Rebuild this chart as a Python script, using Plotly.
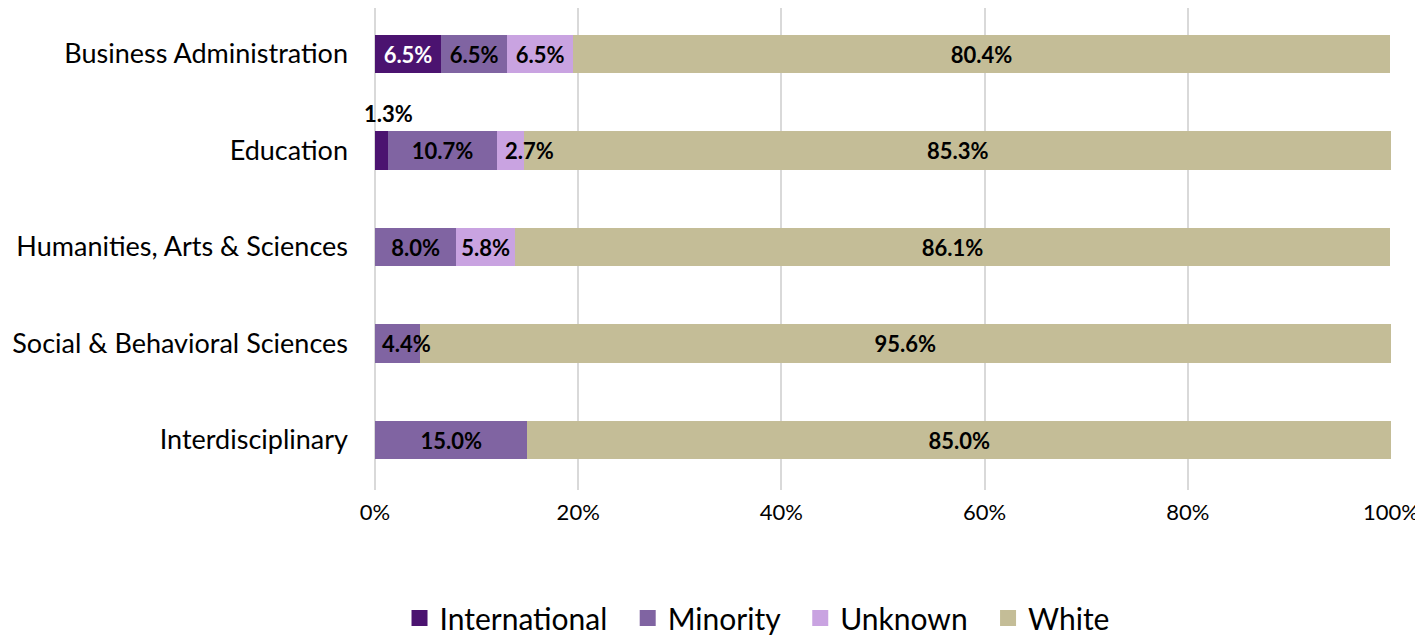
import plotly.graph_objects as go

categories = ["Business Administration", "Education", "Humanities, Arts & Sciences",
              "Social & Behavioral Sciences", "Interdisciplinary"]
series_names = ["International", "Minority", "Unknown", "White"]
international = [6.5, 1.3, 0.0, 0.0, 0.0]
minority = [6.5, 10.7, 8.0, 4.4, 15.0]
unknown = [6.5, 2.7, 5.8, 0.0, 0.0]
white = [80.4, 85.3, 86.1, 95.6, 85.0]
tick_vals = [0, 20, 40, 60, 80, 100]
tick_text = ["0%", "20%", "40%", "60%", "80%", "100%"]

colors = ["#4B1370", "#8064A2", "#C9A3E1", "#C4BD97"]
text_colors = ["white", "black", "black", "black"]
values = [international, minority, unknown, white]

FONT = "Lato"
LBL = 22
# labels drawn on top (too wide for their segment): (series, category) -> pixel nudge
overflow = {("Unknown", "Education"): 19, ("Minority", "Social & Behavioral Sciences"): 9}
above = {("International", "Education")}

fig = go.Figure()
cum = [0.0] * len(categories)
for i, (name, vals, col, tc) in enumerate(zip(series_names, values, colors, text_colors)):
    texts = []
    for j, (c, v) in enumerate(zip(categories, vals)):
        key = (name, c)
        if v == 0:
            texts.append("")
        elif key in above:
            texts.append("")
            fig.add_annotation(x=cum[j] + v, y=c, text=f"{v:.1f}%", showarrow=False,
                               yshift=37,
                               font=dict(family=FONT, size=LBL, color="black", weight="bold"))
        elif key in overflow:
            texts.append("")
            fig.add_annotation(x=cum[j] + v / 2, y=c, text=f"{v:.1f}%", showarrow=False,
                               xshift=overflow[key],
                               font=dict(family=FONT, size=LBL, color=tc, weight="bold"))
        else:
            texts.append(f"{v:.1f}%")
        cum[j] += v
    fig.add_trace(go.Bar(
        y=categories, x=vals, name=name, orientation="h",
        marker=dict(color=col, line=dict(width=0)),
        text=texts, textposition="inside", insidetextanchor="middle",
        textangle=0, constraintext="none",
        textfont=dict(family=FONT, size=LBL, color=tc, weight="bold"),
        hoverinfo="x+name", showlegend=False,
    ))
    # legend entry with a larger square swatch
    pad = "\u00a0\u00a0" if i < len(series_names) - 1 else ""
    fig.add_trace(go.Scatter(
        x=[None], y=[None], mode="markers", name=name + pad,
        marker=dict(symbol="square", size=16, color=col),
        showlegend=True, hoverinfo="skip",
    ))

fig.update_layout(
    barmode="stack", bargap=0.6,
    width=1415, height=640,
    paper_bgcolor="white", plot_bgcolor="white",
    margin=dict(l=367, r=32, t=0, b=158),
    font=dict(family=FONT, size=22, color="black"),
    xaxis=dict(range=[0, 100], tickvals=tick_vals, ticktext=tick_text,
               showgrid=True, gridcolor="#D9D9D9", gridwidth=2,
               zeroline=True, zerolinecolor="#D9D9D9", zerolinewidth=2,
               tickfont=dict(family=FONT, size=22), ticklabelstandoff=7,
               fixedrange=True),
    yaxis=dict(range=[4.518, -0.477], type="category",
               categoryorder="array", categoryarray=categories,
               tickfont=dict(family=FONT, size=27), ticklabelstandoff=26,
               showgrid=False, fixedrange=True),
    legend=dict(orientation="h", x=0.376, xanchor="center", y=-0.2656, yanchor="middle",
                font=dict(family=FONT, size=30), traceorder="normal",
                itemsizing="trace", itemwidth=30),
    uniformtext=dict(mode="show", minsize=LBL),
)

fig.write_html("out.html")
